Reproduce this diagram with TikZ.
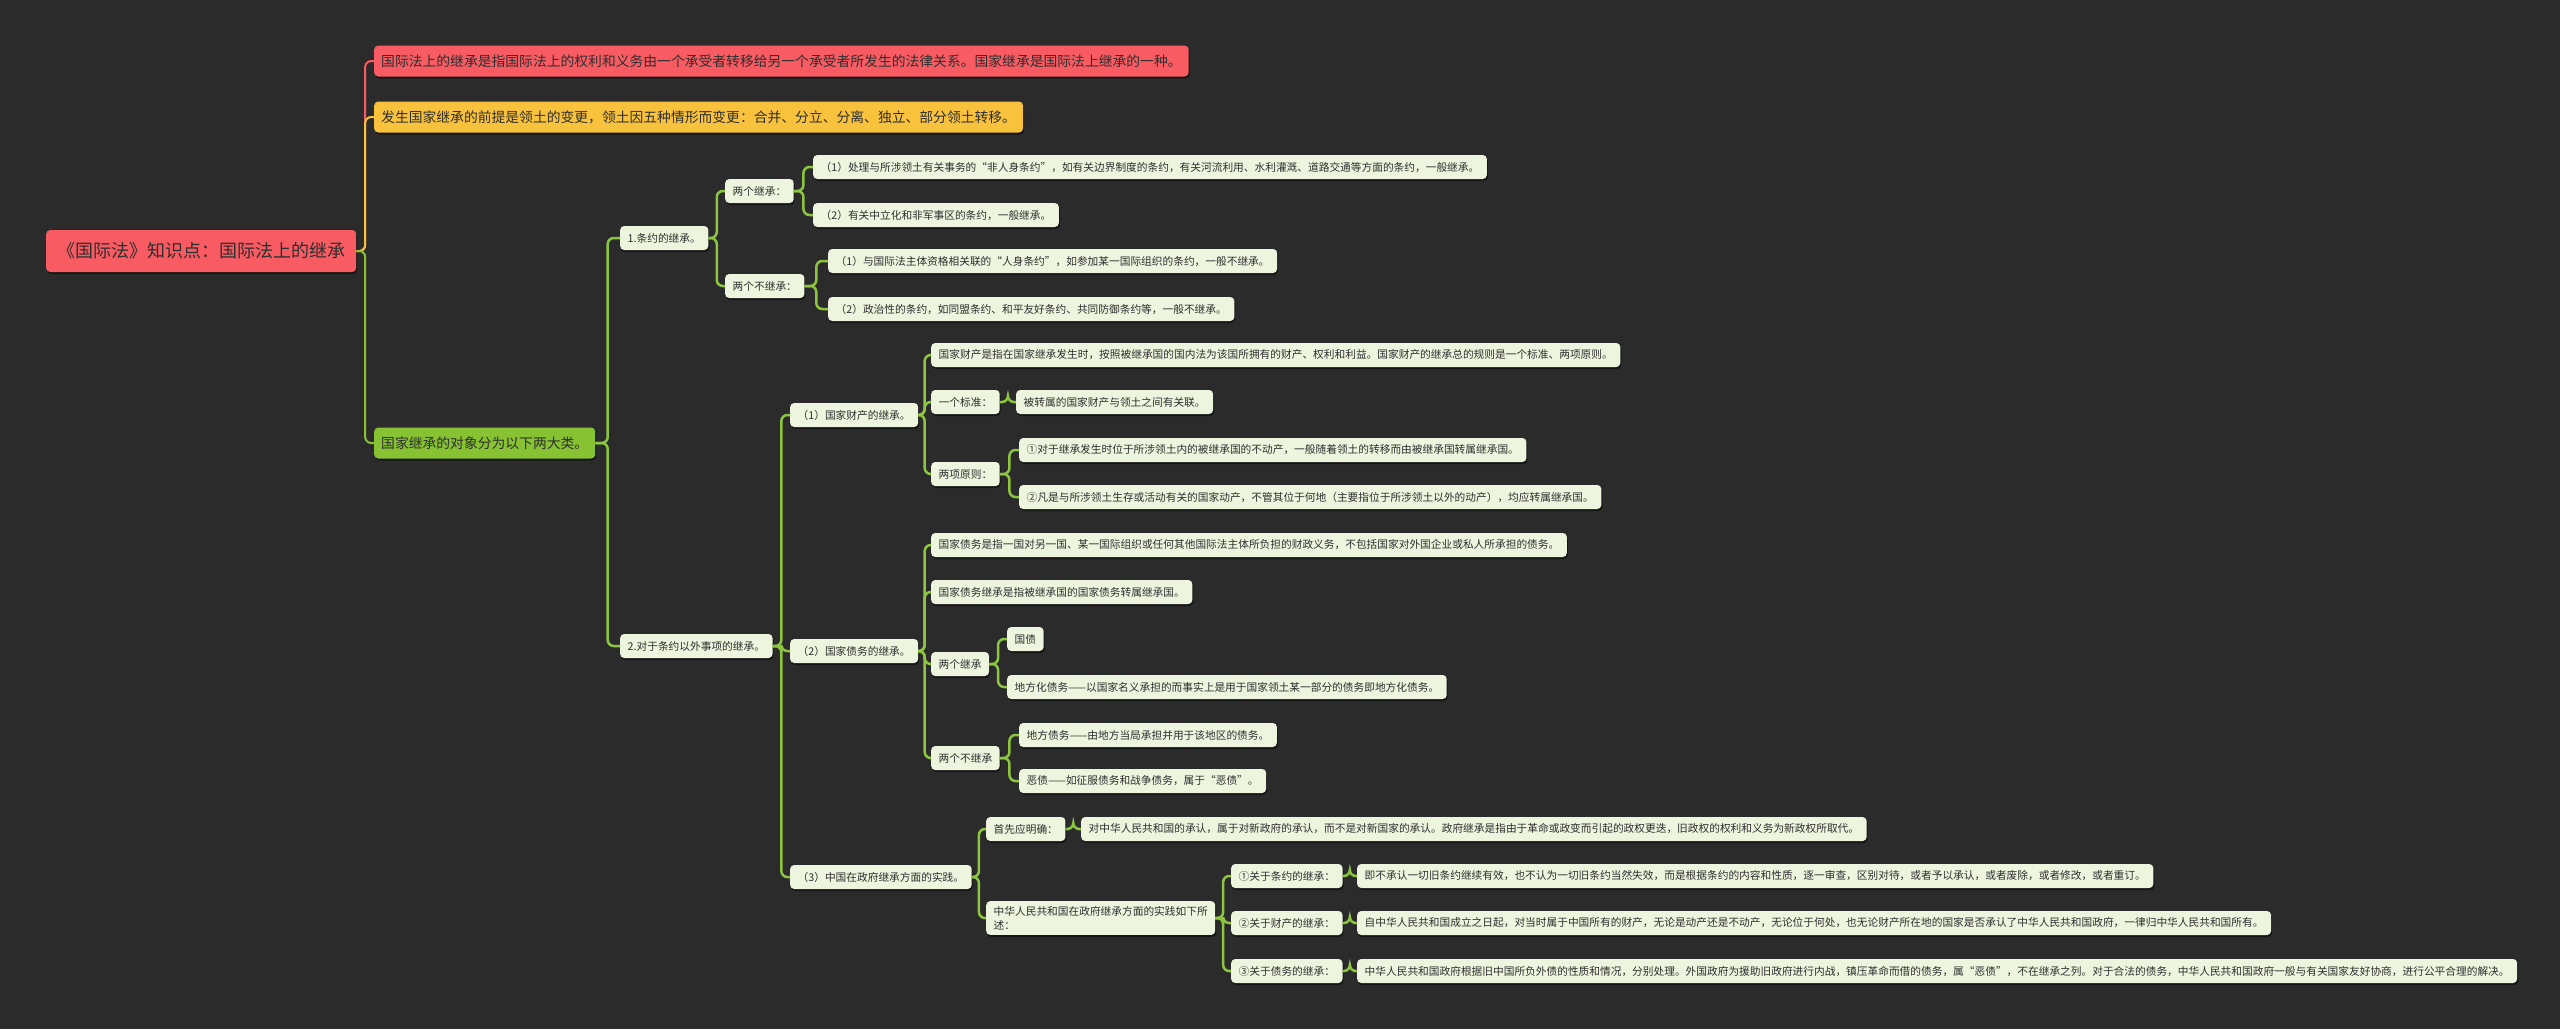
\documentclass[tikz,border=0pt]{standalone}
\usepackage{fontspec}
\setmainfont{Noto Sans CJK SC}
\usetikzlibrary{calc,shadows}
\definecolor{bgcol}{HTML}{2B2B2B}
\definecolor{rootcol}{HTML}{F95B63}
\definecolor{redcol}{HTML}{F95B63}
\definecolor{yelcol}{HTML}{F9C23C}
\definecolor{grncol}{HTML}{86C232}
\definecolor{leafcol}{HTML}{EEF5DE}
\definecolor{linkcol}{HTML}{8CC540}
\definecolor{txtcol}{HTML}{2E2E2E}

\begin{document}
\begin{tikzpicture}[x=1pt, y=-1pt,
		box/.style={anchor=west, text=txtcol, rounded corners=4pt, inner ysep=0pt,
			drop shadow={shadow xshift=1pt, shadow yshift=-2pt, fill=black, opacity=.5}},
		leaf/.style={box, fill=leafcol, inner xsep=7.5pt, minimum height=24pt,
			font=\fontsize{10.7pt}{14pt}\selectfont},
		topic/.style={box, inner xsep=7pt, minimum height=31pt,
			font=\fontsize{13.8pt}{16pt}\selectfont},
		link/.style={draw=linkcol, line width=2.5pt, rounded corners=6pt},
	]
	\fill[bgcol] (0,0) rectangle (2560,1029);

	% root and first level
	\node[box, fill=rootcol, inner xsep=11pt, minimum height=42pt,
		font=\fontsize{18pt}{20pt}\selectfont] (root) at (46,251) {《国际法》知识点：国际法上的继承};
	\node[topic, fill=redcol] (red) at (374,61) {国际法上的继承是指国际法上的权利和义务由一个承受者转移给另一个承受者所发生的法律关系。国家继承是国际法上继承的一种。};
	\node[topic, fill=yelcol] (yel) at (374,117) {发生国家继承的前提是领土的变更，领土因五种情形而变更：合并、分立、分离、独立、部分领土转移。};
	\node[topic, fill=grncol] (grn) at (374,443) {国家继承的对象分为以下两大类。};

	% treaties
	\node[leaf] (t1) at (620,238) {1.条约的继承。};
	\node[leaf] (t1a) at (725,191) {两个继承：};
	\node[leaf] (t1b) at (725,286) {两个不继承：};
	\node[leaf] (t1a1) at (813,167) {（1）处理与所涉领土有关事务的“非人身条约”，如有关边界制度的条约，有关河流利用、水利灌溉、道路交通等方面的条约，一般继承。};
	\node[leaf] (t1a2) at (813,215) {（2）有关中立化和非军事区的条约，一般继承。};
	\node[leaf] (t1b1) at (828,261) {（1）与国际法主体资格相关联的“人身条约”，如参加某一国际组织的条约，一般不继承。};
	\node[leaf] (t1b2) at (828,309) {（2）政治性的条约，如同盟条约、和平友好条约、共同防御条约等，一般不继承。};

	% other matters
	\node[leaf] (t2) at (620,646) {2.对于条约以外事项的继承。};
	\node[leaf] (p1) at (790,415) {（1）国家财产的继承。};
	\node[leaf] (p2) at (790,651) {（2）国家债务的继承。};
	\node[leaf] (p3) at (790,877) {（3）中国在政府继承方面的实践。};

	\node[leaf] (p1a) at (931,355) {国家财产是指在国家继承发生时，按照被继承国的国内法为该国所拥有的财产、权利和利益。国家财产的继承总的规则是一个标准、两项原则。};
	\node[leaf] (p1b) at (931,402) {一个标准：};
	\node[leaf] (p1b1) at (1016,402) {被转属的国家财产与领土之间有关联。};
	\node[leaf] (p1c) at (931,474) {两项原则：};
	\node[leaf] (p1c1) at (1019,450) {①对于继承发生时位于所涉领土内的被继承国的不动产，一般随着领土的转移而由被继承国转属继承国。};
	\node[leaf] (p1c2) at (1019,497) {②凡是与所涉领土生存或活动有关的国家动产，不管其位于何地（主要指位于所涉领土以外的动产），均应转属继承国。};

	\node[leaf] (d1) at (931,545) {国家债务是指一国对另一国、某一国际组织或任何其他国际法主体所负担的财政义务，不包括国家对外国企业或私人所承担的债务。};
	\node[leaf] (d2) at (931,592) {国家债务继承是指被继承国的国家债务转属继承国。};
	\node[leaf] (d3) at (931,664) {两个继承};
	\node[leaf] (d31) at (1007,639) {国债};
	\node[leaf] (d32) at (1007,687) {地方化债务——以国家名义承担的而事实上是用于国家领土某一部分的债务即地方化债务。};
	\node[leaf] (d4) at (931,758) {两个不继承};
	\node[leaf] (d41) at (1019,735) {地方债务——由地方当局承担并用于该地区的债务。};
	\node[leaf] (d42) at (1019,781) {恶债——如征服债务和战争债务，属于“恶债”。};

	\node[leaf] (c1) at (986,829) {首先应明确：};
	\node[leaf] (c11) at (1081,829) {对中华人民共和国的承认，属于对新政府的承认，而不是对新国家的承认。政府继承是指由于革命或政变而引起的政权更迭，旧政权的权利和义务为新政权所取代。};
	\node[leaf, align=left, inner ysep=5pt] (c2) at (986,918) {中华人民共和国在政府继承方面的实践如下所\\述：};
	\node[leaf] (c21) at (1231,876) {①关于条约的继承：};
	\node[leaf] (c211) at (1357,876) {即不承认一切旧条约继续有效，也不认为一切旧条约当然失效，而是根据条约的内容和性质，逐一审查，区别对待，或者予以承认，或者废除，或者修改，或者重订。};
	\node[leaf] (c22) at (1231,923) {②关于财产的继承：};
	\node[leaf] (c221) at (1357,923) {自中华人民共和国成立之日起，对当时属于中国所有的财产，无论是动产还是不动产，无论位于何处，也无论财产所在地的国家是否承认了中华人民共和国政府，一律归中华人民共和国所有。};
	\node[leaf] (c23) at (1231,971) {③关于债务的继承：};
	\node[leaf] (c231) at (1357,971) {中华人民共和国政府根据旧中国所负外债的性质和情况，分别处理。外国政府为援助旧政府进行内战，镇压革命而借的债务，属“恶债”，不在继承之列。对于合法的债务，中华人民共和国政府一般与有关国家友好协商，进行公平合理的解决。};

	% connectors
	\foreach \b/\c in {red/redcol, yel/yelcol, grn/grncol}
		\draw[link, draw=\c, line width=2pt] (root.east) -- ($(root.east)!.5!(root.east-|\b.west)$) |- (\b.west);
	\foreach \a/\b in {grn/t1, grn/t2, t1/t1a, t1/t1b, t1a/t1a1, t1a/t1a2, t1b/t1b1, t1b/t1b2,
			t2/p1, t2/p2, t2/p3, p1/p1a, p1/p1b, p1/p1c, p1b/p1b1, p1c/p1c1, p1c/p1c2,
			p2/d1, p2/d2, p2/d3, p2/d4, d3/d31, d3/d32, d4/d41, d4/d42,
			p3/c1, p3/c2, c1/c11, c2/c21, c2/c22, c2/c23, c21/c211, c22/c221, c23/c231}
		\draw[link] (\a.east) -- ($(\a.east)!.5!(\a.east-|\b.west)$) |- (\b.west);
\end{tikzpicture}
\end{document}
